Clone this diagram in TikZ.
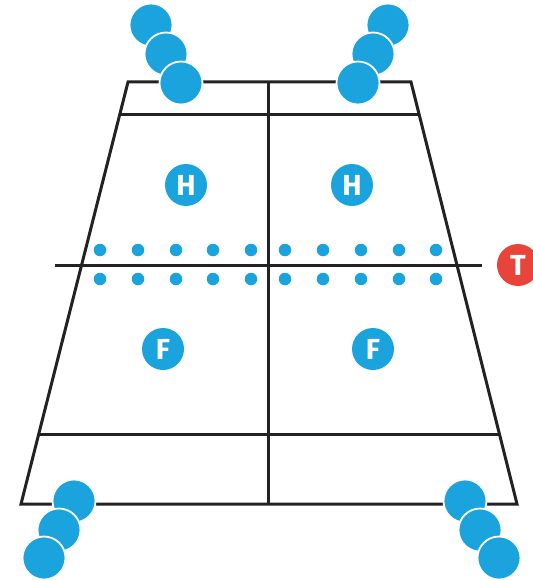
\documentclass[tikz,border=0pt]{standalone}
\usepackage{fontspec}
\setmainfont{Fira Sans}
\definecolor{pblue}{HTML}{1AA3DC}
\definecolor{pred}{HTML}{E8443A}
\definecolor{pline}{HTML}{222222}
\newcommand{\lblfont}{\fontsize{29}{29}\selectfont\bfseries}
\tikzset{
  player/.style={circle,fill=pblue,draw=white,line width=1.8pt,minimum size=43pt,inner sep=0pt},
  lbl/.style={circle,fill=pblue,draw=none,minimum size=42pt,inner sep=0pt,text=white,font=\lblfont},
  tnode/.style={lbl,fill=pred},
  dot/.style={circle,fill=pblue,draw=none,minimum size=12.5pt,inner sep=0pt},
  field/.style={draw=pline,line width=3pt}}
\begin{document}
\begin{tikzpicture}[x=1pt,y=-1pt]
\useasboundingbox (0,0) rectangle (532,580);
% field outline
\coordinate (tl) at (128,82);
\coordinate (tr) at (411,82);
\coordinate (br) at (517,504);
\coordinate (bl) at (21,504);
\coordinate (l1) at (119.6,115);
\coordinate (r1) at (419.4,115);
\coordinate (l2) at (38.8,434);
\coordinate (r2) at (499.2,434);
\coordinate (m1) at (55,265);
\coordinate (m2) at (482,265);
\coordinate (vt) at (268,82);
\coordinate (vb) at (268,504);
\draw[field,line join=miter] (tl) -- (tr) -- (br) -- (bl) -- cycle;
\draw[field] (l1) -- (r1);
\draw[field] (l2) -- (r2);
\draw[field] (m1) -- (m2);
\draw[field] (vt) -- (vb);
% dots
\foreach \x [count=\i] in {100,138,176,213,251,285,323,361,399,436}{
  \node[dot] (da\i) at (\x,250) {};
  \node[dot] (db\i) at (\x,279) {};
}
% labels
\node[lbl] (h1) at (186,185) {H};
\node[lbl] (h2) at (352,185) {H};
\node[lbl] (f1) at (163,349) {F};
\node[lbl] (f2) at (373,349) {F};
\node[tnode] (t) at (518,265) {T};
% players
\node[player] (pa1) at (151,25) {};
\node[player] (pa2) at (166,54) {};
\node[player] (pa3) at (181,83) {};
\node[player] (pb1) at (388,25) {};
\node[player] (pb2) at (373,54) {};
\node[player] (pb3) at (358,83) {};
\node[player] (pc1) at (74,501) {};
\node[player] (pc2) at (59,530) {};
\node[player] (pc3) at (44,558) {};
\node[player] (pd1) at (465,501) {};
\node[player] (pd2) at (480,530) {};
\node[player] (pd3) at (499,558) {};
\end{tikzpicture}
\end{document}
